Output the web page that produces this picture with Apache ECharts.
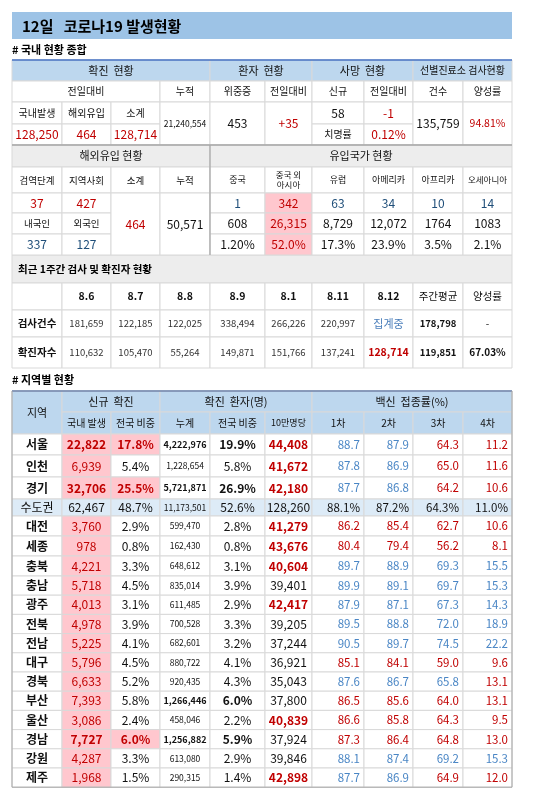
<!DOCTYPE html>
<html><head><meta charset="utf-8">
<script src="https://cdn.jsdelivr.net/npm/echarts@6/dist/echarts.min.js"></script>
<style>html,body{margin:0;padding:0;background:#fff}#c{width:550px;height:802px}</style>
</head><body><div id="c"></div>
<script>
// ---------- DATA ----------
const title = '12일   코로나19 발생현황';
const summaryConfirm = {local: 128250, overseas: 464, total: 128714, cumulative: 21240554};
const severe = 453, severeDiff = '+35';
const deaths = 58, deathsDiff = '-1', fatality = '0.12%';
const clinicTests = 135759, clinicPositive = '94.81%';
const importStage = [37, 427], importSub = 464, importCum = 50571, importNat = [337, 127];
const originLabels = ['중국', '중국 외\n아시아', '유럽', '아메리카', '아프리카', '오세아니아'];
const originToday = [1, 342, 63, 34, 10, 14];
const originCum = ['608', '26,315', '8,729', '12,072', '1764', '1083'];
const originShare = ['1.20%', '52.0%', '17.3%', '23.9%', '3.5%', '2.1%'];
const weekDates = ['8.6', '8.7', '8.8', '8.9', '8.1', '8.11', '8.12'];
const weekTests = [181659, 122185, 122025, 338494, 266226, 220997, null];
const weekCases = [110632, 105470, 55264, 149871, 151766, 137241, 128714];
const weekTestAvg = 178798, weekCaseAvg = 119851, weekPosRate = '67.03%';
const regions = ['서울','인천','경기','수도권','대전','세종','충북','충남','광주','전북','전남','대구','경북','부산','울산','경남','강원','제주'];
const newLocal = [22822,6939,32706,62467,3760,978,4221,5718,4013,4978,5225,5796,6633,7393,3086,7727,4287,1968];
const newShare = [17.8,5.4,25.5,48.7,2.9,0.8,3.3,4.5,3.1,3.9,4.1,4.5,5.2,5.8,2.4,6.0,3.3,1.5];
const cumCases = [4222976,1228654,5721871,11173501,599470,162430,648612,835014,611485,700528,682601,880722,920435,1266446,458046,1256882,613080,290315];
const cumShare = [19.9,5.8,26.9,52.6,2.8,0.8,3.1,3.9,2.9,3.3,3.2,4.1,4.3,6.0,2.2,5.9,2.9,1.4];
const per100k = [44408,41672,42180,128260,41279,43676,40604,39401,42417,39205,37244,36921,35043,37800,40839,37924,39846,42898];
const vac1 = [88.7,87.8,87.7,88.1,86.2,80.4,89.7,89.9,87.9,89.5,90.5,85.1,87.6,86.5,86.6,87.3,88.1,87.7];
const vac2 = [87.9,86.9,86.8,87.2,85.4,79.4,88.9,89.1,87.1,88.8,89.7,84.1,86.7,85.6,85.8,86.4,87.4,86.9];
const vac3 = [64.3,65.0,64.2,64.3,62.7,56.2,69.3,69.7,67.3,72.0,74.5,59.0,65.8,64.0,64.3,64.8,69.2,64.9];
const vac4 = [11.2,11.6,10.6,11.0,10.6,8.1,15.5,15.3,14.3,18.9,22.2,9.6,13.1,13.1,9.5,13.0,15.3,12.0];
const vacRef = [87.5, 86.5, 65.5, 14.0];

// ---------- LAYOUT ----------
const F = '"Noto Sans CJK KR", "Noto Sans", sans-serif';
const X = [12,62,111,160,210,265,312,364,413,463,512];
const RED = '#c00000', BLUE = '#2e75b6', NAVY = '#1f4e79', PINK = '#ffc7ce', HB = '#bdd7ee', GRAY = '#ededed', LINE = '#d9d9d9', TXT = '#111';
const fmt = v => v.toLocaleString('en-US');
const els = [];
function cell(c0, c1, y0, y1, text, o) {
  o = o || {};
  els.push({type:'rect', shape:{x:X[c0], y:y0, width:X[c1]-X[c0], height:y1-y0},
    style:{fill:o.bg||'#fff', stroke:LINE, lineWidth:1}, z:1});
  if (text !== '' && text != null) {
    const left = o.align === 'left';
    const right = o.align === 'right';
    els.push({type:'text', z:3, style:{text:String(text),
      x: left ? X[c0]+6 : right ? X[c1]-4 : (X[c0]+X[c1])/2, y:(y0+y1)/2,
      textAlign: left ? 'left' : right ? 'right' : 'center', textVerticalAlign:'middle',
      fill:o.color||TXT, font:(o.bold?'bold ':'')+(o.size||11)+'px '+F, lineHeight:(o.size||11)+2}});
  }
}
function hline(y, color, w) { els.push({type:'line', z:4, shape:{x1:X[0], y1:y, x2:X[10], y2:y}, style:{stroke:color, lineWidth:w}}); }
function label(x, y, text, size) { els.push({type:'text', z:3, style:{text, x, y, textVerticalAlign:'middle', fill:'#000', font:'bold '+size+'px '+F}}); }

// title
els.push({type:'rect', shape:{x:12, y:12, width:500, height:27}, style:{fill:'#9dc3e6'}});
label(22, 26, title, 15);
label(12, 50, '# 국내 현황 종합', 11);

// table 1
let R = [60,81,102,124,145];
cell(0,4,R[0],R[1],'확진  현황',{bg:HB}); cell(4,6,R[0],R[1],'환자  현황',{bg:HB});
cell(6,8,R[0],R[1],'사망  현황',{bg:HB}); cell(8,10,R[0],R[1],'선별진료소 검사현황',{bg:HB,size:10});
cell(0,3,R[1],R[2],'전일대비',{size:10}); cell(3,4,R[1],R[2],'누적',{size:10});
['위중증','전일대비','신규','전일대비','건수','양성률'].forEach((t,i)=>cell(4+i,5+i,R[1],R[2],t,{size:10}));
['국내발생','해외유입','소계'].forEach((t,i)=>cell(i,i+1,R[2],R[3],t,{size:10}));
[summaryConfirm.local, summaryConfirm.overseas, summaryConfirm.total].forEach((v,i)=>cell(i,i+1,R[3],R[4],fmt(v),{color:RED,size:12}));
cell(3,4,R[2],R[4],fmt(summaryConfirm.cumulative),{size:8.5});
cell(4,5,R[2],R[4],fmt(severe),{size:12}); cell(5,6,R[2],R[4],severeDiff,{size:12,color:RED});
cell(6,7,R[2],R[3],fmt(deaths),{size:12}); cell(7,8,R[2],R[3],deathsDiff,{size:12,color:RED});
cell(6,7,R[3],R[4],'치명률',{size:10}); cell(7,8,R[3],R[4],fatality,{size:12,color:RED});
cell(8,9,R[2],R[4],fmt(clinicTests),{size:12}); cell(9,10,R[2],R[4],clinicPositive,{size:10.5,color:RED});
hline(60,'#4472c4',1.5); hline(145,'#a6a6a6',1.5);

// overseas
R = [145,167,193,213,234,255];
cell(0,4,R[0],R[1],'해외유입 현황',{bg:GRAY}); cell(4,10,R[0],R[1],'유입국가 현황',{bg:GRAY});
['검역단계','지역사회','소계','누적'].forEach((t,i)=>cell(i,i+1,R[1],R[2],t,{size:9.5}));
originLabels.forEach((t,i)=>cell(4+i,5+i,R[1],R[2],t,{size:t.length>4?8.5:9}));
importStage.forEach((v,i)=>cell(i,i+1,R[2],R[3],fmt(v),{color:RED,size:12}));
cell(0,1,R[3],R[4],'내국인',{size:9.5}); cell(1,2,R[3],R[4],'외국인',{size:9.5});
importNat.forEach((v,i)=>cell(i,i+1,R[4],R[5],fmt(v),{color:NAVY,size:12}));
cell(2,3,R[2],R[5],fmt(importSub),{color:RED,size:12}); cell(3,4,R[2],R[5],fmt(importCum),{size:12});
originToday.forEach((v,i)=>cell(4+i,5+i,R[2],R[3],fmt(v),{color:i===1?RED:NAVY,bg:i===1?PINK:'#fff',size:12}));
originCum.forEach((v,i)=>cell(4+i,5+i,R[3],R[4],v,{color:i===1?RED:TXT,bg:i===1?PINK:'#fff',size:12}));
originShare.forEach((v,i)=>cell(4+i,5+i,R[4],R[5],v,{color:i===1?RED:TXT,bg:i===1?PINK:'#fff',size:12}));
els.push({type:'line', z:4, shape:{x1:X[4], y1:R[0], x2:X[4], y2:R[5]}, style:{stroke:'#a6a6a6', lineWidth:1.2}});

// weekly
R = [255,283,310,337,368];
els.push({type:'rect', shape:{x:X[0], y:R[0], width:X[10]-X[0], height:R[1]-R[0]}, style:{fill:GRAY, stroke:LINE}});
label(18, (R[0]+R[1])/2, '최근 1주간 검사 및 확진자 현황', 10.5);
cell(0,1,R[1],R[2],'');
weekDates.forEach((t,i)=>cell(1+i,2+i,R[1],R[2],t,{bold:true,size:10.5}));
cell(8,9,R[1],R[2],'주간평균',{size:10.5}); cell(9,10,R[1],R[2],'양성률',{size:10.5});
cell(0,1,R[2],R[3],'검사건수',{size:10.5,bold:true}); cell(0,1,R[3],R[4],'확진자수',{size:10.5,bold:true});
weekTests.forEach((v,i)=>cell(1+i,2+i,R[2],R[3],v==null?'집계중':fmt(v),{size:v==null?11:9.5,color:v==null?'#4a7ebb':'#333'}));
weekCases.forEach((v,i)=>cell(1+i,2+i,R[3],R[4],fmt(v),{size:i===6?10.5:9.5,color:i===6?RED:'#333',bold:i===6}));
cell(8,9,R[2],R[3],fmt(weekTestAvg),{bold:true,size:9.5}); cell(9,10,R[2],R[3],'-',{size:10});
cell(8,9,R[3],R[4],fmt(weekCaseAvg),{bold:true,size:9.5}); cell(9,10,R[3],R[4],weekPosRate,{bold:true,size:10});

// regions
label(12, 380, '# 지역별 현황', 11);
const H0 = 391, H1 = 412, H2 = 434;
cell(0,1,H0,H2,'지역',{bg:HB});
cell(1,3,H0,H1,'신규  확진',{bg:HB}); cell(3,6,H0,H1,'확진  환자(명)',{bg:HB}); cell(6,10,H0,H1,'백신  접종률(%)',{bg:HB});
['국내 발생','전국 비중','누계','전국 비중','10만명당','1차','2차','3차','4차'].forEach((t,i)=>cell(1+i,2+i,H1,H2,t,{bg:HB,size:t==='10만명당'?9:10}));
hline(H0,'#4472c4',1.5);
const heights = regions.map((r,i)=> i<1?21 : i<3?22 : i===3?17 : i<7?20 : 19.2);
let y = H2;
const vacs = [vac1,vac2,vac3,vac4];
regions.forEach((r,i)=>{
  const y1 = y + heights[i];
  const agg = r === '수도권';
  const bg = agg ? '#ddebf7' : '#fff';
  const big = cumCases[i] > 1250000 && !agg;
  cell(0,1,y,y1,r,{bold:!agg,size:12,bg});
  cell(1,2,y,y1,fmt(newLocal[i]),{bg:agg?bg:PINK,color:agg?TXT:RED,bold:!agg&&newLocal[i]>7500,size:12});
  const hs = !agg && newShare[i] >= 6;
  cell(2,3,y,y1,newShare[i].toFixed(1)+'%',{bg:agg?bg:hs?PINK:'#fff',color:hs?RED:TXT,bold:hs,size:12});
  cell(3,4,y,y1,fmt(cumCases[i]),{bg,size:big?9:8.5,bold:big});
  cell(4,5,y,y1,cumShare[i].toFixed(1)+'%',{bg,size:12,bold:big});
  const hp = !agg && per100k[i] >= 40000;
  cell(5,6,y,y1,fmt(per100k[i]),{bg,size:12,bold:hp,color:hp?RED:TXT});
  vacs.forEach((arr,k)=>{
    const col = agg ? TXT : arr[i] >= vacRef[k] ? '#4a86c5' : RED;
    cell(6+k,7+k,y,y1,arr[i].toFixed(1)+(agg?'%':''),{bg,size:11.5,color:col,align:'right'});
  });
  y = y1;
});
els.push({type:'rect', z:5, shape:{x:X[0], y:H0, width:X[10]-X[0], height:y-H0}, style:{fill:'none', stroke:'#a6a6a6', lineWidth:1}});

const chart = echarts.init(document.getElementById('c'));
chart.setOption({animation:false, graphic:{elements:els}});
</script></body></html>
